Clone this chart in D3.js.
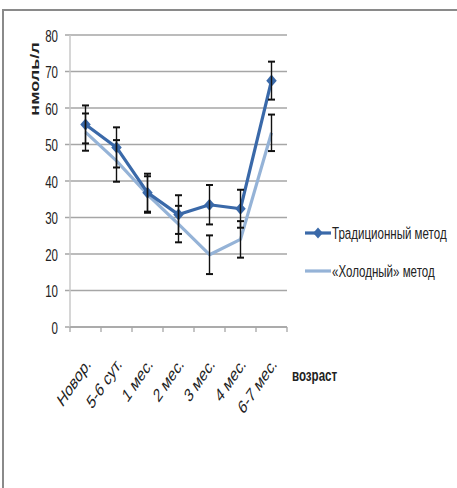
<!DOCTYPE html>
<html><head><meta charset="utf-8">
<script src="https://cdn.jsdelivr.net/npm/d3@7/dist/d3.min.js"></script>
<style>
body{margin:0;background:#fff;}
svg text{font-family:"Liberation Sans",Arial,sans-serif;fill:#222;}
</style></head>
<body>
<svg id="c" width="457" height="488"></svg>
<script>
// Age groups along the horizontal axis
const categories = ["Новор.", "5-6 сут.", "1 мес.", "2 мес.", "3 мес.", "4 мес.", "6-7 мес."];
// Hormone level, nmol/l, by method
const traditional = [55.5, 49.2, 36.8, 30.8, 33.5, 32.4, 67.5];
const traditionalErr = [5.2, 5.5, 5.2, 5.3, 5.4, 5.2, 5.2];
const cold = [53.4, 45.5, 36.3, 28.2, 19.8, 24.0, 53.2];
const coldErr = [5.1, 5.7, 5.0, 5.0, 5.3, 5.0, 5.0];
const yTicks = [0, 10, 20, 30, 40, 50, 60, 70, 80];
const seriesNames = ["Традиционный метод", "«Холодный» метод"];

const svg = d3.select("#c");
const SX = 0.68; // narrow lettering: glyphs are compressed horizontally

// outer frame (top and left edges)
svg.append("path").attr("d", "M3,488V10H457").attr("fill", "none")
  .attr("stroke", "#8a8a8a").attr("stroke-width", 2);

const plotL = 70, plotR = 287, plotT = 35, plotB = 327;
const x = d3.scaleBand().domain(categories).range([plotL, plotR]).padding(0);
const y = d3.scaleLinear().domain([0, 80]).range([plotB, plotT]);

// gridlines
svg.append("g").selectAll("line").data(yTicks).join("line")
  .attr("x1", plotL - 5).attr("x2", plotR)
  .attr("y1", d => y(d)).attr("y2", d => y(d))
  .attr("stroke", "#a6a6a6").attr("stroke-width", 1.3);

// vertical axis line
svg.append("line").attr("x1", plotL).attr("x2", plotL).attr("y1", plotT).attr("y2", plotB + 1)
  .attr("stroke", "#c8c8c8").attr("stroke-width", 1.5);

// y axis labels
const yAxis = d3.axisLeft(y).tickValues(yTicks).tickSize(0).tickPadding(12);
const gy = svg.append("g").attr("transform", `translate(${plotL},0)`).call(yAxis);
gy.select(".domain").remove();
gy.selectAll(".tick text")
  .attr("x", null).attr("dy", null)
  .attr("transform", `translate(-12,6) scale(${SX},1)`)
  .attr("text-anchor", "end")
  .style("font-size", "17px").style("font-family", "Liberation Sans").attr("fill", "#333");

// x axis with ticks at category boundaries
const gx = svg.append("g").attr("transform", `translate(0,${plotB})`);
gx.append("line").attr("x1", plotL).attr("x2", plotR).attr("y1", 0).attr("y2", 0)
  .attr("stroke", "#a6a6a6").attr("stroke-width", 1.3);
const bounds = categories.map(c => x(c) + x.bandwidth());
gx.selectAll("line.t").data([plotL].concat(bounds)).join("line").attr("class", "t")
  .attr("x1", d => d).attr("x2", d => d).attr("y1", 0).attr("y2", 5)
  .attr("stroke", "#a6a6a6").attr("stroke-width", 1.3);

gx.selectAll("text").data(categories).join("text")
  .attr("transform", d => `translate(${x(d) + x.bandwidth() / 2 + 6},${38}) scale(${SX},1) rotate(-45)`)
  .attr("text-anchor", "end")
  .attr("fill", "#222")
  .style("font-size", "19px")
  .text(d => d);

// axis titles
svg.append("text").attr("transform", `translate(39,79) scale(${SX},1) rotate(-90)`)
  .attr("text-anchor", "middle").style("font-size", "18px").style("font-weight", "bold")
  .text("нмоль/л");
svg.append("text").attr("transform", `translate(292,381) scale(${SX},1)`)
  .style("font-size", "17px").style("font-weight", "bold")
  .text("возраст");

const cx = d => x(d) + x.bandwidth() / 2;
const colors = ["#3a69a9", "#95b3d7"];

function drawSeries(vals, color, withMarkers) {
  const line = d3.line().x((d, i) => cx(categories[i])).y(d => y(d));
  svg.append("path").datum(vals).attr("d", line).attr("fill", "none")
    .attr("stroke", color).attr("stroke-width", 3.2).attr("stroke-linejoin", "round");
  if (withMarkers) {
    svg.append("g").selectAll("path").data(vals).join("path")
      .attr("d", d3.symbol(d3.symbolDiamond2, 70))
      .attr("transform", (d, i) => `translate(${cx(categories[i])},${y(d)}) scale(1,1.15)`)
      .attr("fill", color);
  }
}
function drawErrors(vals, errs) {
  const g = svg.append("g").attr("stroke", "#111").attr("stroke-width", 1.4);
  vals.forEach((v, i) => {
    const px = cx(categories[i]);
    g.append("line").attr("x1", px).attr("x2", px).attr("y1", y(v - errs[i])).attr("y2", y(v + errs[i]));
    [v - errs[i], v + errs[i]].forEach(e => {
      g.append("line").attr("x1", px - 3.5).attr("x2", px + 3.5).attr("y1", y(e)).attr("y2", y(e))
        .attr("stroke-width", 2);
    });
  });
}

drawSeries(cold, colors[1], false);
drawSeries(traditional, colors[0], true);
drawErrors(cold, coldErr);
drawErrors(traditional, traditionalErr);

// legend
const lg = svg.append("g");
const ly = [233, 271];
seriesNames.forEach((n, i) => {
  lg.append("line").attr("x1", 305).attr("x2", 331).attr("y1", ly[i]).attr("y2", ly[i])
    .attr("stroke", colors[i]).attr("stroke-width", 3.2);
  if (i === 0) {
    lg.append("path").attr("d", d3.symbol(d3.symbolDiamond2, 60))
      .attr("transform", `translate(318,${ly[i]}) scale(1,1.15)`).attr("fill", colors[i]);
  }
  lg.append("text").attr("transform", `translate(332,${ly[i] + 6}) scale(${SX},1)`)
    .style("font-size", "17px").text(n);
});
</script>
</body></html>
